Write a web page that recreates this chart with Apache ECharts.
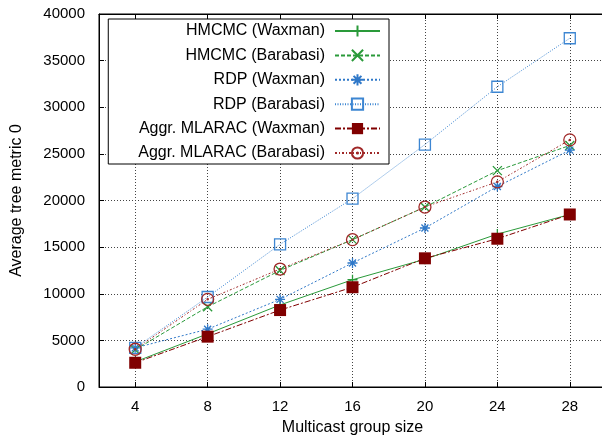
<!DOCTYPE html>
<html lang="en">
<head>
    <meta charset="UTF-8">
    <title>tree metric</title>
    <script src="https://cdn.jsdelivr.net/npm/echarts@6/dist/echarts.min.js"></script>
    <style>
        html, body { margin: 0; padding: 0; background: #fff; }
        #chart { width: 602px; height: 436px; }
    </style>
</head>
<body>
    <div id="chart"></div>
</body>
<script type="application/javascript">
    // group sizes on the x axis
    var groupSizes = [4, 8, 12, 16, 20, 24, 28];

    var hmcmcWaxman = [2700, 5700, 8800, 11500, 13700, 16400, 18500];
    var hmcmcBarabasi = [4000, 8600, 12500, 15800, 19300, 23200, 25900];
    var rdpWaxman = [4200, 6200, 9400, 13300, 17050, 21500, 25400];
    var rdpBarabasi = [4200, 9650, 15300, 20200, 26000, 32200, 37400];
    var aggrWaxman = [2600, 5400, 8250, 10700, 13800, 15900, 18500];
    var aggrBarabasi = [4050, 9400, 12650, 15800, 19300, 22000, 26500];

    var seriesNames = ['HMCMC (Waxman)', 'HMCMC (Barabasi)', 'RDP (Waxman)',
        'RDP (Barabasi)', 'Aggr. MLARAC (Waxman)', 'Aggr. MLARAC (Barabasi)'];

    var PLUS = 'path://M0,5L10,5M5,0L5,10';
    var CROSS = 'path://M0,0L10,10M10,0L0,10';
    var STAR = 'path://M0,5L10,5M5,0L5,10M1.5,1.5L8.5,8.5M8.5,1.5L1.5,8.5';
    var SQUARE = 'path://M0,0L10,0L10,10L0,10Z';
    var CIRCLE = 'path://M10,5A5,5 0 1,1 0,5A5,5 0 1,1 10,5ZM5.5,5A0.5,0.5 0 1,1 4.5,5A0.5,0.5 0 1,1 5.5,5Z';

    function pairs(vals) {
        var out = [];
        for (var i = 0; i < groupSizes.length; i++) {
            out.push([groupSizes[i], vals[i]]);
        }
        return out;
    }

    function makeSeries(name, vals, color, dash, symbol, size, filled) {
        return {
            name: name,
            type: 'line',
            xAxisIndex: 0,
            data: pairs(vals),
            symbol: symbol,
            symbolSize: size,
            showAllSymbol: true,
            lineStyle: { color: color, width: 1, type: dash },
            itemStyle: {
                color: filled ? color : 'transparent',
                borderColor: color,
                borderWidth: filled ? 0 : 1.3
            },
            emphasis: { disabled: true },
            animation: false
        };
    }

    var chart = echarts.init(document.getElementById('chart'));
    var font = 'Liberation Sans, Arial, sans-serif';

    var option = {
        backgroundColor: '#fff',
        textStyle: { fontFamily: font },
        grid: {
            left: 99, right: -4, top: 14, bottom: 49,
            outerBoundsMode: 'none',
            containLabel: false,
            show: true, borderColor: '#000', borderWidth: 1
        },
        legend: {
            data: seriesNames,
            orient: 'vertical',
            align: 'right',
            right: 213,
            top: 19,
            itemWidth: 45,
            itemHeight: 14,
            itemGap: 8.4,
            padding: [4, 8, 3, 30],
            backgroundColor: '#fff',
            borderColor: '#000',
            borderWidth: 1,
            borderRadius: 0,
            textStyle: { fontFamily: font, fontSize: 16, lineHeight: 14, color: '#000', padding: [0, 5, 0, 0] }
        },
        xAxis: [
            {
                type: 'value',
                min: 2,
                max: 30,
                name: 'Multicast group size',
                nameLocation: 'middle',
                nameGap: 33,
                nameTextStyle: { fontFamily: font, fontSize: 16, color: '#000' },
                axisLine: { lineStyle: { color: '#000', width: 1 } },
                axisTick: { inside: true, length: 5, customValues: groupSizes, lineStyle: { color: '#000' } },
                axisLabel: { customValues: groupSizes, fontFamily: font, fontSize: 15, color: '#000', margin: 12 },
                splitLine: { show: true, lineStyle: { color: '#444', type: [1, 2], width: 1 } }
            },
            {
                type: 'value',
                position: 'top',
                min: 2,
                max: 30,
                axisLine: { lineStyle: { color: '#000', width: 1 } },
                axisTick: { inside: true, length: 5, customValues: groupSizes, lineStyle: { color: '#000' } },
                axisLabel: { show: false },
                splitLine: { show: false }
            }
        ],
        yAxis: {
            type: 'value',
            min: 0,
            max: 40000,
            interval: 5000,
            name: 'Average tree metric 0',
            nameLocation: 'middle',
            nameGap: 74,
            nameTextStyle: { fontFamily: font, fontSize: 16, color: '#000' },
            axisLine: { show: true, lineStyle: { color: '#000', width: 1 } },
            axisTick: { show: true, inside: true, length: 5, lineStyle: { color: '#000' } },
            axisLabel: {
                fontFamily: font, fontSize: 15, color: '#000', margin: 14,
                formatter: function (v) { return String(v); }
            },
            splitLine: { show: true, lineStyle: { color: '#444', type: [1, 2], width: 1 } }
        },
        series: [
            makeSeries(seriesNames[0], hmcmcWaxman, '#2a9a3a', 'solid', PLUS, 10, false),
            makeSeries(seriesNames[1], hmcmcBarabasi, '#2a9a3a', [4, 2], CROSS, 9, false),
            makeSeries(seriesNames[2], rdpWaxman, '#2f78c8', [2, 2], STAR, 10, false),
            makeSeries(seriesNames[3], rdpBarabasi, '#3d86d2', [1, 1.5], SQUARE, 11, false),
            makeSeries(seriesNames[4], aggrWaxman, '#800000', [6, 2, 2, 2], 'rect', 12, true),
            makeSeries(seriesNames[5], aggrBarabasi, '#a02828', [2, 2, 1, 2], CIRCLE, 12, false)
        ]
    };

    chart.setOption(option);
</script>
</html>
